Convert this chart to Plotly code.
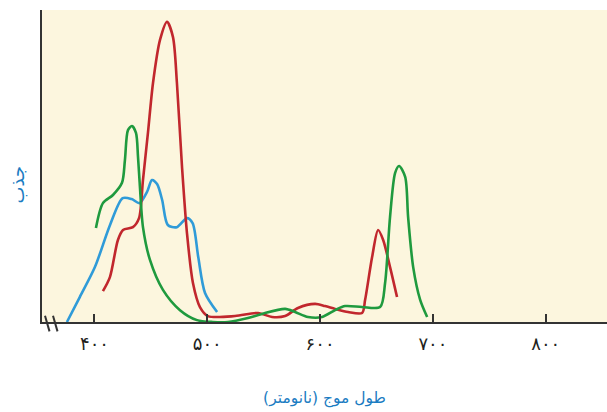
import plotly.graph_objects as go

# Wavelength (nm) and relative absorbance (0-100)
blue_nm = [375.6, 387, 400.4, 413.8, 425, 433, 440, 446.6, 451, 455.5, 460, 465, 473, 482, 487, 492, 498, 508.7]
blue_abs = [0, 8.0, 17.6, 31.1, 39.7, 39.4, 38.1, 41.7, 45.5, 44.2, 39.1, 31.1, 30.4, 33.3, 31.7, 20.8, 9.3, 3.2]

green_nm = [401.3, 407.5, 416.4, 424.4, 427, 429.7, 433.2, 436.8, 438.6, 440.3, 443, 449.2, 460.7, 475.8,
            490.9, 505, 518.4, 536.1, 548.5, 569, 577.8, 589.3, 601.7, 613.3, 622.2, 637.2, 653.2, 657.6,
            662, 666.5, 670, 675.4, 678, 682.5, 688.7, 694.9]
green_abs = [30.1, 38.1, 40.7, 44.6, 51.9, 61.5, 62.8, 60.6, 52.9, 43.3, 30.4, 19.9, 10.3, 3.8,
             0.6, 0, 0, 1.3, 2.6, 4.2, 3.2, 1.6, 1.6, 3.8, 5.1, 4.8, 4.8, 12.5,
             33.7, 47.8, 50.0, 46.5, 33.7, 17.6, 7.1, 1.6]

red_nm = [407.5, 413.7, 420.8, 425.3, 434.1, 439.5, 443, 447.4, 451.9, 458.1, 464.3, 469.6, 473.1, 477.6,
          482, 487.3, 493.5, 500.6, 524.6, 545, 557.4, 569, 580.4, 595.5, 604.4, 613.3, 624.8, 637.2,
          639.9, 646.1, 651.4, 655.9, 662, 668.2]
red_abs = [9.9, 14.4, 26.3, 29.5, 30.4, 33.3, 45.5, 60.6, 76.6, 90.4, 96.2, 91.3, 76.6, 49.7,
           28.5, 12.5, 4.8, 1.9, 1.9, 2.9, 1.6, 1.9, 4.5, 5.8, 5.1, 4.2, 3.2, 2.9,
           7.1, 20.8, 29.5, 26.3, 17.6, 8.0]

tick_vals = [400, 500, 600, 700, 800]
tick_text = ["۴۰۰", "۵۰۰", "۶۰۰", "۷۰۰", "۸۰۰"]
x_title = "طول موج (نانومتر)"
y_title = "جذب"

fig = go.Figure()
for xs, ys, col in [(blue_nm, blue_abs, "#2f9bd8"), (red_nm, red_abs, "#c1272d"), (green_nm, green_abs, "#1f9a3e")]:
    fig.add_trace(go.Scatter(x=xs, y=ys, mode="lines",
                             line=dict(color=col, width=2.6, shape="spline", smoothing=0.8),
                             showlegend=False, hoverinfo="skip"))

# axis break marks
for bx in [45, 53]:
    fig.add_shape(type="line", xref="paper", yref="paper",
                  x0=(bx - 42) / 565, x1=(bx - 42 + 4.5) / 565,
                  y0=0.02, y1=-0.03, line=dict(color="#333333", width=2))

fig.add_annotation(text=y_title, xref="paper", yref="paper", x=-0.043, y=0.44,
                   xanchor="center", yanchor="middle",
                   textangle=-90, showarrow=False,
                   font=dict(family="DejaVu Sans", size=18, color="#1b7cc2"))

fig.update_layout(
    width=607, height=412,
    margin=dict(l=42, r=0, t=10, b=90),
    paper_bgcolor="white",
    plot_bgcolor="#fcf6de",
    xaxis=dict(range=[353.5, 854.3], tickvals=tick_vals, ticktext=tick_text,
               ticks="inside", ticklen=8, tickwidth=1.5, tickcolor="#333333",
               showline=True, linecolor="#333333", linewidth=2, showgrid=False, zeroline=False,
               ticklabelstandoff=4, automargin=False,
               tickfont=dict(family="DejaVu Sans", size=18, color="#231f20"),
               title=dict(text=x_title, standoff=40,
                          font=dict(family="DejaVu Sans", size=15.5, color="#1b7cc2"))),
    yaxis=dict(range=[0, 100], showticklabels=False, ticks="", showline=True,
               linecolor="#333333", linewidth=2, showgrid=False, zeroline=False),
)

fig.write_html("out.html", config={"displayModeBar": False},
               post_script="document.body.style.margin='0';document.body.style.overflow='hidden';")
